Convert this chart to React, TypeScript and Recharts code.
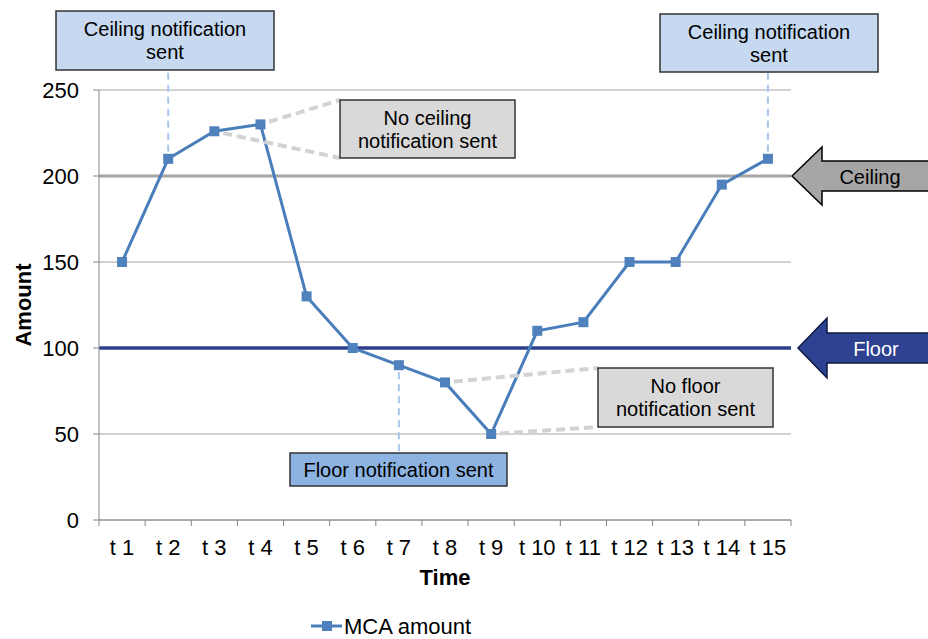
import React from "react";
import { LineChart, Line, XAxis, YAxis, CartesianGrid, ReferenceLine, Legend, Label } from "recharts";

const CATEGORIES = ["t 1", "t 2", "t 3", "t 4", "t 5", "t 6", "t 7", "t 8", "t 9", "t 10", "t 11", "t 12", "t 13", "t 14", "t 15"];
const MCA_AMOUNTS = [150, 210, 226, 230, 130, 100, 90, 80, 50, 110, 115, 150, 150, 195, 210];
const Y_TICKS = [0, 50, 100, 150, 200, 250];
const CEILING = 200;
const FLOOR = 100;

const FONT = '"Liberation Sans", Arial, sans-serif';
const SERIES_COLOR = "#4A7EBB";
const MARKER_COLOR = "#4F81BD";
const AXIS_COLOR = "#868686";
const PLOT_WIDTH = 692;
const HALF_BAND = PLOT_WIDTH / CATEGORIES.length / 2;

const data = CATEGORIES.map((name, i) => ({ name, amount: MCA_AMOUNTS[i] }));

// leader lines: point index -> where the callout box sits (pixels)
const LEADERS: Record<number, { x?: number; y: number; kind: "blue" | "gray" }[]> = {
  1: [{ y: 72, kind: "blue" }],
  2: [{ x: 340, y: 158, kind: "gray" }],
  3: [{ x: 340, y: 100, kind: "gray" }],
  6: [{ y: 453, kind: "blue" }],
  7: [{ x: 598, y: 368, kind: "gray" }],
  8: [{ x: 598, y: 427, kind: "gray" }],
  14: [{ y: 73, kind: "blue" }],
};

const CALLOUTS = [
  { x: 56, y: 11, w: 218, h: 59, fill: "#C6D9F1", lines: ["Ceiling notification", "sent"] },
  { x: 660, y: 14, w: 218, h: 58, fill: "#C6D9F1", lines: ["Ceiling notification", "sent"] },
  { x: 340, y: 100, w: 175, h: 58, fill: "#D9D9D9", lines: ["No ceiling", "notification sent"] },
  { x: 598, y: 368, w: 175, h: 59, fill: "#D9D9D9", lines: ["No floor", "notification sent"] },
  { x: 290, y: 453, w: 217, h: 33, fill: "#8DB3E2", lines: ["Floor notification sent"] },
];

const renderDot = (props: any) => {
  const { cx, cy, index } = props;
  if (cx == null || cy == null) return <g key={`dot-${index}`} />;
  const leaders = LEADERS[index] || [];
  return (
    <g key={`dot-${index}`}>
      {leaders.map((l, k) => {
        const tx = l.x ?? cx;
        const ty = l.y;
        const dx = tx - cx;
        const dy = ty - cy;
        const len = Math.hypot(dx, dy) || 1;
        const gap = l.kind === "blue" ? 7 : 9;
        return (
          <line
            key={k}
            x1={cx + (dx / len) * gap}
            y1={cy + (dy / len) * gap}
            x2={tx}
            y2={ty}
            stroke={l.kind === "blue" ? "#A8C6EA" : "#D3D3D3"}
            strokeWidth={l.kind === "blue" ? 2 : 4}
            strokeDasharray={l.kind === "blue" ? "7 5" : "9 5"}
          />
        );
      })}
      <rect x={cx - 5} y={cy - 5} width={10} height={10} fill={MARKER_COLOR} />
    </g>
  );
};

// tick marks sit between categories, like the original
const renderXTick = (props: any) => {
  const { x, y, payload, index } = props;
  const last = index === CATEGORIES.length - 1;
  return (
    <g>
      <line x1={x - HALF_BAND} y1={y} x2={x - HALF_BAND} y2={y + 6} stroke={AXIS_COLOR} />
      {last && <line x1={x + HALF_BAND} y1={y} x2={x + HALF_BAND} y2={y + 6} stroke={AXIS_COLOR} />}
      <text x={x} y={y + 35} textAnchor="middle" fontSize={22} fontFamily={FONT} fill="#000">
        {payload.value}
      </text>
    </g>
  );
};

const renderLegend = () => (
  <div style={{ display: "flex", justifyContent: "center", height: 30 }}>
    <svg width={172} height={30} style={{ marginLeft: 3 }}>
      <line x1={0} y1={17} x2={31} y2={17} stroke={SERIES_COLOR} strokeWidth={3} />
      <rect x={11} y={12} width={10} height={10} fill={MARKER_COLOR} />
      <text x={33} y={25} fontSize={22} fontFamily={FONT} fill="#000">
        MCA amount
      </text>
    </svg>
  </div>
);

export default function App() {
  return (
    <div style={{ position: "absolute", left: 0, top: 0, width: 928, height: 639, background: "#fff" }}>
      <LineChart
        width={928}
        height={639}
        data={data}
        margin={{ top: 90, right: 137, bottom: 0, left: 0 }}
      >
        <CartesianGrid horizontal vertical={false} stroke="#A6A6A6" />
        <XAxis
          dataKey="name"
          interval={0}
          height={89}
          padding={{ left: HALF_BAND, right: HALF_BAND }}
          tickSize={0}
          tickMargin={0}
          tickLine={false}
          tick={renderXTick}
          axisLine={{ stroke: AXIS_COLOR }}
        >
          <Label
            content={({ viewBox }: any) => (
              <text
                x={viewBox.x + viewBox.width / 2}
                y={585}
                textAnchor="middle"
                fontSize={22}
                fontWeight="bold"
                fontFamily={FONT}
                fill="#000"
              >
                Time
              </text>
            )}
          />
        </XAxis>
        <YAxis
          width={99}
          domain={[0, 250]}
          ticks={Y_TICKS}
          interval={0}
          tickSize={6}
          tickMargin={14}
          tick={{ fontSize: 22, fontFamily: FONT, fill: "#000" }}
          axisLine={{ stroke: AXIS_COLOR }}
          tickLine={{ stroke: AXIS_COLOR }}
        >
          <Label
            content={({ viewBox }: any) => (
              <text
                x={31}
                y={viewBox.y + viewBox.height / 2}
                textAnchor="middle"
                fontSize={22}
                fontWeight="bold"
                fontFamily={FONT}
                fill="#000"
                transform={`rotate(-90 31 ${viewBox.y + viewBox.height / 2})`}
              >
                Amount
              </text>
            )}
          />
        </YAxis>
        <ReferenceLine y={CEILING} stroke="#A6A6A6" strokeWidth={3} />
        <ReferenceLine y={FLOOR} stroke="#2F3F8F" strokeWidth={3.5} />
        <Line
          type="linear"
          dataKey="amount"
          stroke={SERIES_COLOR}
          strokeWidth={3}
          dot={renderDot}
          activeDot={false}
          isAnimationActive={false}
        />
        <Legend verticalAlign="bottom" content={renderLegend} />
      </LineChart>

      <svg
        width={928}
        height={639}
        style={{ position: "absolute", left: 0, top: 0, pointerEvents: "none" }}
      >
        {CALLOUTS.map((c, i) => {
          const mid = c.y + c.h / 2;
          return (
            <g key={i}>
              <rect x={c.x} y={c.y} width={c.w} height={c.h} fill={c.fill} stroke="#333" strokeWidth={1.5} />
              {c.lines.map((t, k) => (
                <text
                  key={k}
                  x={c.x + c.w / 2}
                  y={mid + (k - (c.lines.length - 1) / 2) * 23 + 7}
                  textAnchor="middle"
                  fontSize={20}
                  fontFamily={FONT}
                  fill="#000"
                >
                  {t}
                </text>
              ))}
            </g>
          );
        })}
        {/* ceiling / floor arrows */}
        <polygon
          points="792,176 822,147 822,161 930,161 930,191 822,191 822,205"
          fill="#A6A6A6"
          stroke="#000"
          strokeWidth={1.5}
        />
        <text x={870} y={184} textAnchor="middle" fontSize={20} fontFamily={FONT} fill="#000">
          Ceiling
        </text>
        <polygon
          points="798,348 827,318 827,333 930,333 930,363 827,363 827,378"
          fill="#2F4191"
          stroke="#0F1A40"
          strokeWidth={1.5}
        />
        <text x={876} y={356} textAnchor="middle" fontSize={20} fontFamily={FONT} fill="#fff">
          Floor
        </text>
      </svg>
    </div>
  );
}
